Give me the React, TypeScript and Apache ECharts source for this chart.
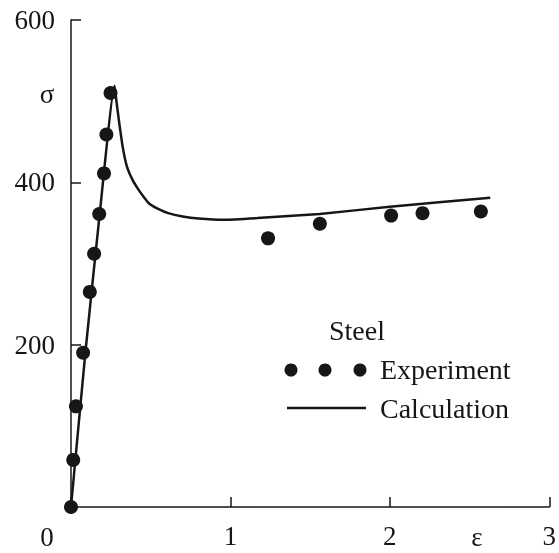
import React, { useEffect, useRef } from "react";
import * as echarts from "echarts";

const experimentX = [0, 0.014, 0.031, 0.076, 0.118, 0.145, 0.177, 0.207, 0.222, 0.248, 1.236, 1.561, 2.008, 2.205, 2.571];
const experimentY = [0, 58, 124, 190, 265, 312, 361, 411, 459, 510, 331, 349, 359, 362, 364];

const calcX = [0, 0.09, 0.18, 0.273, 0.285, 0.3, 0.324, 0.35, 0.386, 0.42, 0.46, 0.49, 0.55, 0.61, 0.7, 0.8, 0.96, 1.17, 1.56, 2.0, 2.63];
const calcY = [0, 190, 361, 519, 500, 477, 444, 420, 403, 392, 381, 374, 367, 362, 358, 355.5, 354, 356, 361, 370, 381];

const xTicks = [0, 1, 2, 3];
const yTicks = [0, 200, 400, 600];

const FONT = "serif";
const AXFONT = "Liberation Serif";
const INK = "#161616";

export default function App() {
  const ref = useRef<HTMLDivElement>(null);
  useEffect(() => {
    if (!ref.current) return;
    const chart = echarts.init(ref.current, undefined, { renderer: "svg" });
    const textStyle = (text: string, x: number, y: number, size = 27, align = "center") => ({
      type: "text",
      x,
      y,
      style: { text, fontFamily: FONT, fontSize: size, fill: INK, align, verticalAlign: "middle" },
    });
    chart.setOption({
      animation: false,
      grid: { left: 71, right: 4, top: 20, bottom: 46 },
      xAxis: {
        type: "value",
        min: xTicks[0],
        max: xTicks[xTicks.length - 1],
        interval: 1,
        axisLine: { lineStyle: { color: INK, width: 1.5 } },
        axisTick: { inside: true, length: 10, lineStyle: { color: INK, width: 1.5 } },
        axisLabel: {
          formatter: (v: number) => (v === 0 ? "" : String(v)),
          fontFamily: AXFONT,
          fontSize: 27,
          color: INK,
          margin: 15,
        },
        splitLine: { show: false },
      },
      yAxis: {
        type: "value",
        min: yTicks[0],
        max: yTicks[yTicks.length - 1],
        interval: 200,
        axisLine: { show: true, lineStyle: { color: INK, width: 1.5 } },
        axisTick: { show: true, inside: true, length: 10, lineStyle: { color: INK, width: 1.5 } },
        axisLabel: {
          showMinLabel: false,
          fontFamily: AXFONT,
          fontSize: 27,
          color: INK,
          margin: 16,
        },
        splitLine: { show: false },
      },
      series: [
        {
          name: "Calculation",
          type: "line",
          data: calcX.map((x, i) => [x, calcY[i]]),
          showSymbol: false,
          smooth: 0.15,
          lineStyle: { color: INK, width: 2.5 },
          z: 2,
        },
        {
          name: "Experiment",
          type: "scatter",
          data: experimentX.map((x, i) => [x, experimentY[i]]),
          symbol: "circle",
          symbolSize: 14,
          itemStyle: { color: INK, opacity: 1 },
          z: 3,
        },
      ],
      graphic: [
        textStyle("0", 47, 537),
        textStyle("ε", 477, 537),
        textStyle("σ", 47, 94),
        textStyle("Steel", 357, 330, 28),
        { type: "circle", shape: { cx: 291, cy: 370, r: 6.5 }, style: { fill: INK } },
        { type: "circle", shape: { cx: 325, cy: 370, r: 6.5 }, style: { fill: INK } },
        { type: "circle", shape: { cx: 360, cy: 370, r: 6.5 }, style: { fill: INK } },
        textStyle("Experiment", 380, 369, 28, "left"),
        { type: "line", shape: { x1: 287, y1: 408, x2: 366, y2: 408 }, style: { stroke: INK, lineWidth: 2.5 } },
        textStyle("Calculation", 380, 408, 28, "left"),
      ],
    });
    return () => chart.dispose();
  }, []);
  return <div ref={ref} style={{ position: "fixed", left: 0, top: 0, width: 559, height: 553 }} />;
}
